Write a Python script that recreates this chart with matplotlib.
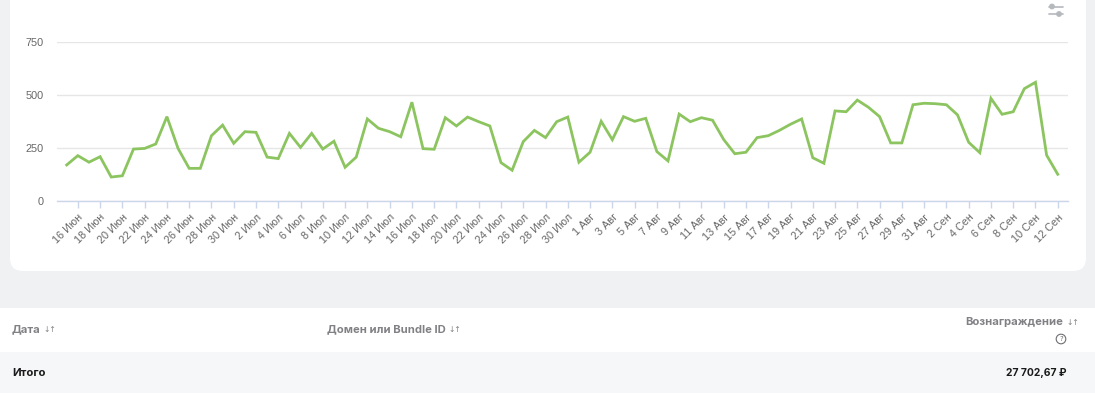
import matplotlib
matplotlib.use("Agg")
import matplotlib.pyplot as plt
from matplotlib.patches import FancyBboxPatch, Rectangle, Circle

# daily reward, 15 Jun .. 12 Sep (90 days)
values = [170, 214, 183, 209, 113, 119, 245, 248, 269, 398,
          248, 154, 154, 308, 358, 272, 327, 324, 207, 200,
          319, 253, 319, 245, 282, 159, 207, 387, 343, 327,
          303, 466, 247, 244, 393, 354, 396, 374, 354, 181,
          145, 280, 333, 299, 374, 396, 183, 230, 376, 289,
          398, 376, 390, 233, 189, 410, 374, 393, 381, 290,
          223, 230, 299, 308, 333, 362, 387, 204, 178, 425,
          421, 476, 442, 398, 274, 274, 454, 461, 459, 454,
          406, 277, 228, 484, 409, 421, 530, 560, 216, 126]

# labels shown under every second day, starting at 16 Jun
tick_labels = ["16 Июн", "18 Июн", "20 Июн", "22 Июн", "24 Июн", "26 Июн", "28 Июн", "30 Июн",
               "2 Июл", "4 Июл", "6 Июл", "8 Июл", "10 Июл", "12 Июл", "14 Июл", "16 Июл",
               "18 Июл", "20 Июл", "22 Июл", "24 Июл", "26 Июл", "28 Июл", "30 Июл",
               "1 Авг", "3 Авг", "5 Авг", "7 Авг", "9 Авг", "11 Авг", "13 Авг", "15 Авг",
               "17 Авг", "19 Авг", "21 Авг", "23 Авг", "25 Авг", "27 Авг", "29 Авг", "31 Авг",
               "2 Сен", "4 Сен", "6 Сен", "8 Сен", "10 Сен", "12 Сен"]
y_ticks = [0, 250, 500, 750]

table_headers = ["Дата", "Домен или Bundle ID", "Вознаграждение"]
total_label = "Итого"
total_value = "27 702,67 ₽"

W, H = 1095, 393
fig = plt.figure(figsize=(W / 100, H / 100), dpi=100)
fig.patch.set_facecolor("#f0f1f3")

# background layer in pixel coordinates
bg = fig.add_axes([0, 0, 1, 1], zorder=0)
bg.set_xlim(0, W)
bg.set_ylim(H, 0)
bg.axis("off")

card = FancyBboxPatch((10, -30), 1076, 301, boxstyle="round,pad=0,rounding_size=13",
                      facecolor="white", edgecolor="none")
bg.add_patch(card)
bg.add_patch(Rectangle((0, 308), W, 44, facecolor="white", edgecolor="none"))
bg.add_patch(Rectangle((0, 352), W, 41, facecolor="#f6f7f8", edgecolor="none"))

# settings icon
icon_c = "#b5b8bd"
bg.plot([1049, 1063], [6.5, 6.5], color=icon_c, lw=1.2, solid_capstyle="round")
bg.plot([1049, 1063], [14, 14], color=icon_c, lw=1.2, solid_capstyle="round")
bg.add_patch(Circle((1052, 6.5), 2.2, color=icon_c))
bg.add_patch(Circle((1059, 14), 2.2, color=icon_c))

# table header
hdr_c = "#808085"
tf = "Inter"
fs = 8.1
renderer = fig.canvas.get_renderer()


def header(x, y, s, ha="left"):
    t = bg.text(x, y, s, fontsize=fs, fontweight="bold", color=hdr_c,
                family=tf, va="center", ha=ha)
    ext = t.get_window_extent(renderer)
    bg.text(ext.x1 + 3, y + 0.5, "↓↑", fontsize=5.5, color=hdr_c,
            family="DejaVu Sans", va="center")


header(12, 329, table_headers[0])
header(327, 329, table_headers[1])
header(1063, 322, table_headers[2], ha="right")
bg.add_patch(Circle((1061, 339), 4.8, facecolor="none", edgecolor="#6e6e72", lw=0.8))
bg.text(1061, 339.3, "?", fontsize=5, color="#6e6e72", ha="center", va="center",
        family="DejaVu Sans")

bg.text(12, 373, total_label, fontsize=fs, fontweight="bold", color="#1a1a1a",
        family=tf, va="center")
bg.text(1067, 373, total_value, fontsize=7.4, fontweight="bold", color="#1a1a1a",
        family=["Inter", "DejaVu Sans"], va="center", ha="right")

# chart
left, right, top, bottom = 57, 1068, 42, 201
ax = fig.add_axes([left / W, 1 - bottom / H, (right - left) / W, (bottom - top) / H], zorder=2)
ax.patch.set_alpha(0)

x = list(range(len(values)))
ax.plot(x, values, color="#8cc55f", lw=2, solid_joinstyle="miter", zorder=3)

ax.set_ylim(0, 750)
ax.set_xlim(-0.87, 89.92)
ax.set_yticks(y_ticks)
ax.set_yticklabels([str(v) for v in y_ticks])
ax.grid(axis="y", color="#e6e6e6", lw=1)
ax.set_axisbelow(True)

ax.set_xticks(x[1::2])
ax.set_xticklabels(tick_labels, rotation=45, ha="right", rotation_mode="anchor")

for s in ["top", "right", "left"]:
    ax.spines[s].set_visible(False)
ax.spines["bottom"].set_color("#ccd6eb")
ax.spines["bottom"].set_linewidth(1)

ax.tick_params(axis="x", length=5, width=1, color="#ccd6eb", pad=3,
               labelsize=7.8, labelcolor="#666666")
ax.tick_params(axis="y", length=0, pad=9.5, labelsize=7.8, labelcolor="#666666")
for lab in ax.get_xticklabels() + ax.get_yticklabels():
    lab.set_family("Liberation Sans")

fig.savefig("out.png", dpi=100, facecolor=fig.get_facecolor())
